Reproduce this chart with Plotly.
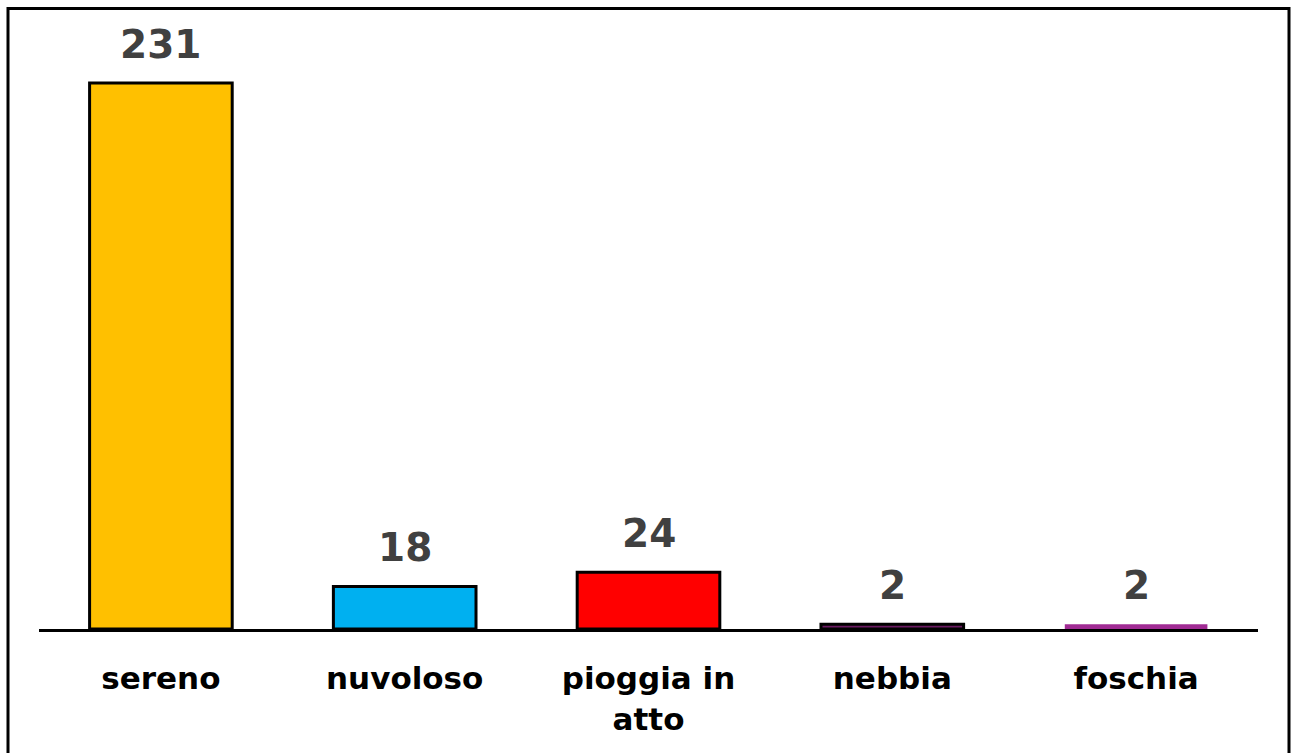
import plotly.graph_objects as go

categories = ["sereno", "nuvoloso", "pioggia in<br>atto", "nebbia", "foschia"]
values = [231, 18, 24, 2, 2]
colors = ["#FFC000", "#00B0F0", "#FF0000", "#6A1A62", "#A02B93"]
outline_widths = [3, 3, 3, 3, 0]

W, H = 1298, 753
ml, mr, mt, mb = 39, 40, 20, 124
plot_h = H - mt - mb
px_per_unit = 546 / 231
ymax = plot_h / px_per_unit
FONT = "DejaVu Sans"

fig = go.Figure()
fig.add_trace(go.Bar(
    x=categories, y=values,
    marker=dict(color=colors, line=dict(color="black", width=outline_widths)),
    width=0.585,
    hoverinfo="skip",
))

for c, v in zip(categories, values):
    fig.add_annotation(x=c, y=v, text=f"<b>{v}</b>", showarrow=False,
                       yanchor="middle", yshift=39,
                       font=dict(family=FONT, size=39, color="#404040"))

# outer border
fig.add_shape(type="rect", xref="paper", yref="paper",
              x0=(8 - ml) / (W - ml - mr), x1=(1289 - ml) / (W - ml - mr),
              y0=-(H - mb + 10) / plot_h, y1=1 + (mt - 8.5) / plot_h,
              line=dict(color="black", width=3), fillcolor="rgba(0,0,0,0)",
              layer="below")

fig.update_layout(
    width=W, height=H,
    margin=dict(l=ml, r=mr, t=mt, b=mb),
    paper_bgcolor="white", plot_bgcolor="white",
    showlegend=False,
    font=dict(family=FONT, color="black"),
    xaxis=dict(
        showline=True, linecolor="black", linewidth=3,
        showgrid=False, zeroline=False, ticks="",
        tickfont=dict(family=FONT, size=31, color="black"),
        ticklabelstandoff=20,
        tickvals=categories,
        ticktext=[f"<b>{c}</b>" for c in categories],
        fixedrange=True,
    ),
    yaxis=dict(range=[0, ymax], visible=False, fixedrange=True),
)

fig.write_html("out.html", config={"displayModeBar": False},
               post_script="document.body.style.margin='0px';document.body.style.overflow='hidden';")
